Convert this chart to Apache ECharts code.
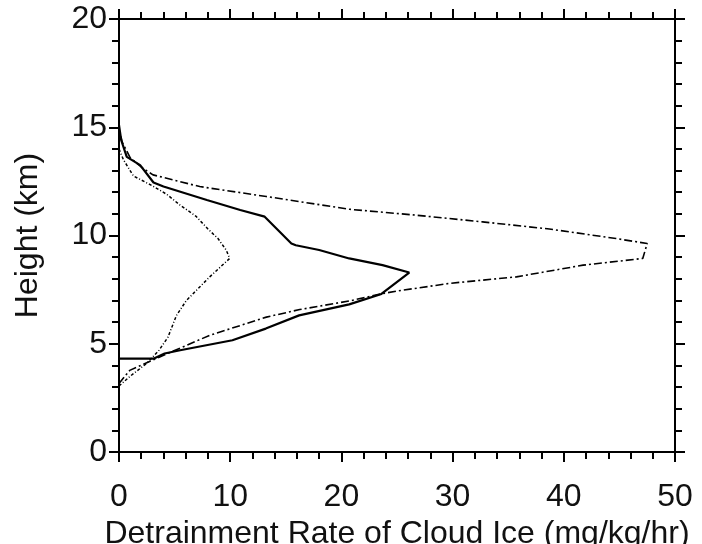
<!DOCTYPE html>
<html>
<head>
<meta charset="utf-8">
<script src="https://cdn.jsdelivr.net/npm/echarts@6/dist/echarts.min.js"></script>
<style>
html,body{margin:0;padding:0;background:#fff;}
#chart{width:702px;height:544px;}
</style>
</head>
<body>
<div id="chart"></div>
<script>
// Detrainment rate (mg/kg/hr) vs height (km); each pair = [rate, height]
var solidRate   = [0, 3.1, 4.1, 5.5, 10.2, 13.2, 16.2, 20.7, 23.6, 26.1, 23.7, 20.7, 18.0, 15.9, 15.5, 13.1, 10.9, 7.9, 4.0, 3.1, 1.9, 0.7, 0.2, 0];
var solidHeight = [4.31, 4.31, 4.55, 4.70, 5.16, 5.70, 6.31, 6.82, 7.30, 8.29, 8.63, 8.94, 9.33, 9.55, 9.63, 10.87, 11.18, 11.64, 12.26, 12.45, 13.25, 13.63, 14.4, 15.1];

var dashDotRate   = [0, 0.96, 3.66, 8.16, 13.25, 16.25, 20.75, 23.74, 24.95, 29.74, 35.74, 41.73, 47.1, 47.5, 44.7, 38.7, 32.7, 26.7, 20.75, 13.25, 7.26, 3.06, 2.16, 1.0, 0.3, 0];
var dashDotHeight = [3.16, 3.77, 4.39, 5.39, 6.23, 6.58, 6.98, 7.32, 7.43, 7.79, 8.09, 8.63, 8.94, 9.63, 9.86, 10.3, 10.63, 10.94, 11.21, 11.8, 12.26, 12.8, 13.1, 13.6, 14.3, 14.9];

var dottedRate   = [0, 1.0, 2.5, 3.6, 4.4, 5.16, 6.06, 8.16, 9.95, 9.65, 8.9, 8.0, 6.9, 5.5, 4.3, 2.8, 1.3, 0.4, 0];
var dottedHeight = [3.05, 3.5, 4.1, 4.7, 5.3, 6.3, 7.0, 8.09, 8.94, 9.32, 9.86, 10.3, 10.9, 11.4, 11.9, 12.35, 12.75, 13.5, 14.0];

var xTicks = [0, 10, 20, 30, 40, 50];
var yTicks = [0, 5, 10, 15, 20];
var xTitle = 'Detrainment Rate of Cloud Ice (mg/kg/hr)';
var yTitle = 'Height (km)';

function pairs(xs, ys){ return xs.map(function(x,i){ return [x, ys[i]]; }); }

var FONT = 'Liberation Sans';
var FS = 32;
var chart = echarts.init(document.getElementById('chart'), null, {renderer:'canvas'});

function axisBase(){
  return {
    axisLine:{show:true, onZero:false, lineStyle:{color:'#000', width:2}},
    axisTick:{show:true, inside:false, length:10, lineStyle:{color:'#000', width:2}},
    minorTick:{show:true, splitNumber:5, length:7, lineStyle:{color:'#000', width:2}},
    splitLine:{show:false},
    minorSplitLine:{show:false}
  };
}

chart.setOption({
  animation:false,
  backgroundColor:'#fff',
  grid:{left:119, right:27, top:19, bottom:92, containLabel:false, outerBoundsMode:'none'},
  xAxis:[
    Object.assign({type:'value', position:'bottom', min:xTicks[0], max:xTicks[xTicks.length-1], interval:10,
      name:xTitle, nameLocation:'middle', nameGap:56,
      nameTextStyle:{fontFamily:FONT, fontSize:FS, color:'#111'},
      axisLabel:{show:true, margin:29, fontFamily:FONT, fontSize:FS, color:'#111'}}, axisBase()),
    Object.assign({type:'value', position:'top', min:xTicks[0], max:xTicks[xTicks.length-1], interval:10,
      axisLabel:{show:false}}, axisBase())
  ],
  yAxis:[
    Object.assign({type:'value', position:'left', min:yTicks[0], max:yTicks[yTicks.length-1], interval:5,
      name:yTitle, nameLocation:'middle', nameGap:75,
      nameTextStyle:{fontFamily:FONT, fontSize:FS, color:'#111'},
      axisLabel:{show:true, margin:12, fontFamily:FONT, fontSize:FS, color:'#111'}}, axisBase()),
    Object.assign({type:'value', position:'right', min:yTicks[0], max:yTicks[yTicks.length-1], interval:5,
      axisLabel:{show:false}}, axisBase())
  ],
  series:[
    {type:'line', name:'solid', data:pairs(solidRate, solidHeight), showSymbol:false, symbol:'none',
      lineStyle:{color:'#000', width:2.2, type:'solid'}},
    {type:'line', name:'dashdot', data:pairs(dashDotRate, dashDotHeight), showSymbol:false, symbol:'none',
      lineStyle:{color:'#000', width:1.6, type:[8,3,2,3]}},
    {type:'line', name:'dotted', data:pairs(dottedRate, dottedHeight), showSymbol:false, symbol:'none',
      lineStyle:{color:'#000', width:1.5, type:[3,2,1,2]}}
  ]
});

// frame lines overshoot the corners slightly, as in the original plot
var p0 = chart.convertToPixel({xAxisIndex:0, yAxisIndex:0}, [xTicks[0], yTicks[0]]);
var p1 = chart.convertToPixel({xAxisIndex:0, yAxisIndex:0}, [xTicks[xTicks.length-1], yTicks[yTicks.length-1]]);
var ov = 10;
var ls = {stroke:'#000', lineWidth:2};
chart.setOption({graphic:[
  {type:'line', shape:{x1:p0[0], y1:p1[1]-ov, x2:p0[0], y2:p0[1]+ov}, style:ls, silent:true},
  {type:'line', shape:{x1:p1[0], y1:p1[1]-ov, x2:p1[0], y2:p0[1]+ov}, style:ls, silent:true},
  {type:'line', shape:{x1:p0[0]-ov, y1:p1[1], x2:p1[0]+ov, y2:p1[1]}, style:ls, silent:true},
  {type:'line', shape:{x1:p0[0]-ov, y1:p0[1], x2:p1[0]+ov, y2:p0[1]}, style:ls, silent:true}
]});
</script>
</body>
</html>
